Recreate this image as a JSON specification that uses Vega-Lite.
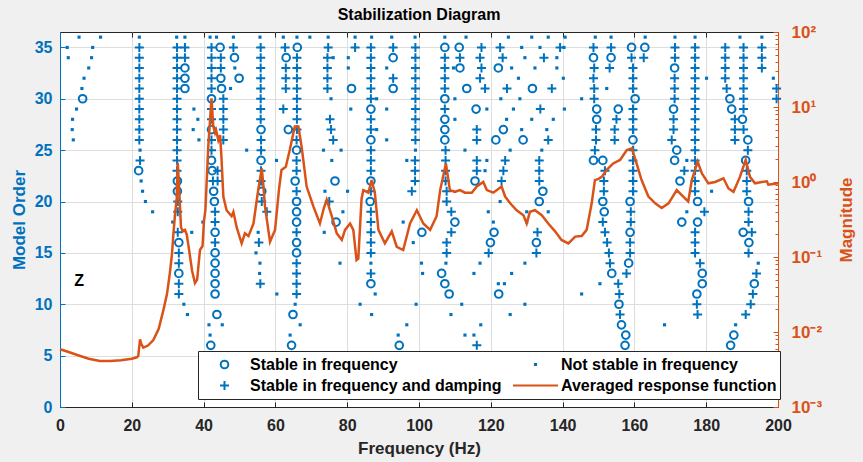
{
"$schema":"https://vega.github.io/schema/vega-lite/v6.json",
"width":718,"height":375,
"autosize":{"type":"none"},
"padding":{"left":60,"top":32,"right":85,"bottom":55},
"background":"#f0f0f0",
"title":{"text":"Stabilization Diagram","font":"Liberation Sans","fontSize":16,"fontWeight":"bold","color":"#000000","anchor":"middle","frame":"group","offset":0},
"config":{"view":{"fill":"white","stroke":"#262626","strokeWidth":1},
"legend":{"orient":"none","legendX":138,"legendY":319,"columns":2,"fillColor":"white","strokeColor":"#262626","padding":3,"symbolSize":2025,"symbolStrokeWidth":2,"clipHeight":21,"labelOffset":2,"columnPadding":10,"rowPadding":0,"labelFont":"Liberation Sans","labelFontSize":16,"labelFontWeight":"bold","labelColor":"#000000","labelLimit":400,"symbolOpacity":1}},
"resolve":{"scale":{"y":"independent"}},
"layer":[
{"data":{"values":[
{"f":11.3,"o":36,"t":"n"},{"f":5.3,"o":36,"t":"n"},{"f":2.0,"o":35,"t":"n"},{"f":9.1,"o":35,"t":"n"},{"f":2.3,"o":34,"t":"n"},{"f":8.8,"o":34,"t":"n"},{"f":8.0,"o":33,"t":"n"},{"f":6.7,"o":32,"t":"n"},{"f":6.1,"o":31,"t":"n"},{"f":6.3,"o":30,"t":"c"},{"f":4.6,"o":29,"t":"n"},{"f":3.5,"o":28,"t":"n"},{"f":3.4,"o":27,"t":"n"},{"f":3.7,"o":26,"t":"n"},
{"f":22.1,"o":36,"t":"n"},{"f":22.1,"o":35,"t":"p"},{"f":22.1,"o":34,"t":"p"},{"f":22.1,"o":33,"t":"p"},{"f":22.1,"o":32,"t":"p"},{"f":22.1,"o":31,"t":"p"},{"f":22.1,"o":30,"t":"p"},{"f":22.1,"o":29,"t":"p"},{"f":22.1,"o":28,"t":"p"},{"f":22.1,"o":27,"t":"p"},{"f":22.1,"o":26,"t":"p"},{"f":22.3,"o":25,"t":"n"},{"f":22.3,"o":24,"t":"p"},{"f":21.9,"o":23,"t":"c"},{"f":22.6,"o":22,"t":"n"},{"f":23.0,"o":21,"t":"n"},{"f":23.8,"o":20,"t":"n"},{"f":25.8,"o":19,"t":"n"},
{"f":32.5,"o":36,"t":"n"},{"f":34.8,"o":36,"t":"n"},{"f":32.6,"o":35,"t":"p"},{"f":32.6,"o":34,"t":"p"},{"f":32.6,"o":33,"t":"p"},{"f":32.6,"o":32,"t":"p"},{"f":32.6,"o":31,"t":"p"},{"f":32.6,"o":30,"t":"p"},{"f":32.6,"o":29,"t":"p"},{"f":32.6,"o":28,"t":"p"},{"f":32.6,"o":27,"t":"p"},{"f":32.6,"o":26,"t":"p"},{"f":32.6,"o":25,"t":"p"},{"f":32.6,"o":24,"t":"p"},{"f":32.6,"o":23,"t":"p"},{"f":32.7,"o":22,"t":"c"},{"f":32.7,"o":21,"t":"c"},{"f":32.8,"o":20,"t":"p"},{"f":32.8,"o":19,"t":"p"},{"f":31.4,"o":18,"t":"n"},{"f":32.8,"o":17,"t":"p"},{"f":33.1,"o":16,"t":"c"},{"f":33.1,"o":15,"t":"p"},{"f":33.1,"o":14,"t":"p"},{"f":33.1,"o":13,"t":"c"},{"f":33.1,"o":12,"t":"p"},{"f":33.1,"o":11,"t":"p"},{"f":34.5,"o":10,"t":"n"},{"f":35.5,"o":9,"t":"n"},
{"f":34.8,"o":35,"t":"p"},{"f":34.8,"o":34,"t":"p"},{"f":34.8,"o":33,"t":"c"},{"f":34.8,"o":32,"t":"c"},{"f":34.8,"o":31,"t":"c"},{"f":37.3,"o":29,"t":"n"},{"f":38.4,"o":28,"t":"n"},{"f":37.1,"o":27,"t":"n"},{"f":38.7,"o":26,"t":"n"},{"f":36.7,"o":17,"t":"n"},{"f":39.8,"o":18,"t":"n"},
{"f":41.8,"o":36,"t":"n"},{"f":43.6,"o":36,"t":"n"},{"f":42.2,"o":35,"t":"p"},{"f":42.2,"o":34,"t":"p"},{"f":42.2,"o":33,"t":"p"},{"f":42.2,"o":32,"t":"p"},{"f":42.2,"o":31,"t":"p"},{"f":42.2,"o":30,"t":"c"},{"f":42.2,"o":29,"t":"p"},{"f":42.2,"o":28,"t":"p"},{"f":42.2,"o":27,"t":"c"},{"f":42.2,"o":26,"t":"p"},{"f":42.2,"o":25,"t":"p"},{"f":42.2,"o":24,"t":"c"},{"f":42.4,"o":23,"t":"c"},{"f":42.6,"o":22,"t":"p"},{"f":42.8,"o":21,"t":"c"},{"f":43.0,"o":20,"t":"c"},{"f":43.2,"o":19,"t":"p"},{"f":43.2,"o":18,"t":"p"},{"f":43.2,"o":17,"t":"c"},{"f":43.2,"o":16,"t":"p"},{"f":43.2,"o":15,"t":"c"},{"f":43.2,"o":14,"t":"c"},{"f":43.2,"o":13,"t":"c"},{"f":43.2,"o":12,"t":"c"},{"f":43.2,"o":11,"t":"c"},{"f":43.7,"o":9,"t":"c"},{"f":45.2,"o":8,"t":"n"},{"f":41.5,"o":8,"t":"n"},{"f":41.8,"o":7,"t":"n"},{"f":42.0,"o":6,"t":"c"},
{"f":44.6,"o":35,"t":"c"},{"f":44.8,"o":34,"t":"p"},{"f":44.8,"o":33,"t":"p"},{"f":44.8,"o":32,"t":"c"},{"f":45.0,"o":31,"t":"c"},{"f":45.5,"o":30,"t":"p"},{"f":45.5,"o":29,"t":"p"},{"f":45.5,"o":28,"t":"p"},{"f":45.5,"o":27,"t":"p"},{"f":45.5,"o":26,"t":"p"},{"f":43.9,"o":23,"t":"p"},{"f":43.9,"o":22,"t":"p"},
{"f":48.3,"o":36,"t":"n"},{"f":48.3,"o":35,"t":"p"},{"f":48.6,"o":34,"t":"c"},{"f":48.7,"o":33,"t":"n"},{"f":49.9,"o":32,"t":"c"},{"f":47.5,"o":31,"t":"n"},{"f":52.0,"o":25,"t":"n"},
{"f":55.7,"o":36,"t":"n"},{"f":55.9,"o":35,"t":"p"},{"f":55.9,"o":34,"t":"p"},{"f":55.9,"o":33,"t":"p"},{"f":55.9,"o":32,"t":"p"},{"f":55.9,"o":31,"t":"p"},{"f":55.9,"o":30,"t":"p"},{"f":55.9,"o":29,"t":"p"},{"f":55.9,"o":28,"t":"p"},{"f":56.0,"o":27,"t":"c"},{"f":56.0,"o":26,"t":"p"},{"f":56.0,"o":25,"t":"p"},{"f":56.0,"o":24,"t":"c"},{"f":56.0,"o":23,"t":"p"},{"f":56.0,"o":22,"t":"p"},{"f":56.2,"o":21,"t":"c"},{"f":56.2,"o":20,"t":"p"},{"f":57.6,"o":19,"t":"p"},{"f":55.2,"o":17,"t":"n"},{"f":55.4,"o":16,"t":"p"},{"f":54.6,"o":15,"t":"n"},{"f":55.7,"o":14,"t":"n"},{"f":55.6,"o":13,"t":"n"},{"f":55.8,"o":12,"t":"p"},{"f":60.4,"o":11,"t":"n"},{"f":60.3,"o":24,"t":"n"},
{"f":62.2,"o":36,"t":"n"},{"f":66.0,"o":36,"t":"n"},{"f":62.7,"o":35,"t":"p"},{"f":63.0,"o":34,"t":"c"},{"f":62.9,"o":33,"t":"p"},{"f":62.9,"o":32,"t":"p"},{"f":62.9,"o":31,"t":"p"},{"f":62.2,"o":29,"t":"p"},{"f":63.6,"o":27,"t":"c"},
{"f":66.1,"o":35,"t":"c"},{"f":66.0,"o":34,"t":"p"},{"f":66.0,"o":33,"t":"p"},{"f":66.0,"o":32,"t":"p"},{"f":66.0,"o":31,"t":"p"},{"f":66.0,"o":30,"t":"p"},{"f":66.0,"o":29,"t":"p"},{"f":66.0,"o":28,"t":"p"},{"f":66.0,"o":27,"t":"p"},{"f":65.9,"o":26,"t":"p"},{"f":65.9,"o":25,"t":"c"},{"f":65.9,"o":24,"t":"p"},{"f":65.9,"o":23,"t":"p"},{"f":65.5,"o":22,"t":"c"},{"f":65.9,"o":21,"t":"p"},{"f":65.9,"o":20,"t":"c"},{"f":65.9,"o":19,"t":"c"},{"f":65.9,"o":18,"t":"c"},{"f":65.9,"o":17,"t":"p"},{"f":65.9,"o":16,"t":"c"},{"f":65.9,"o":15,"t":"c"},{"f":65.9,"o":14,"t":"p"},{"f":65.9,"o":13,"t":"p"},{"f":65.9,"o":12,"t":"p"},{"f":65.9,"o":11,"t":"p"},{"f":65.5,"o":10,"t":"n"},{"f":64.9,"o":9,"t":"c"},{"f":66.9,"o":8,"t":"n"},{"f":64.1,"o":7,"t":"n"},{"f":64.5,"o":6,"t":"c"},
{"f":69.6,"o":36,"t":"n"},{"f":74.7,"o":36,"t":"n"},{"f":74.7,"o":35,"t":"p"},{"f":74.5,"o":34,"t":"p"},{"f":74.5,"o":33,"t":"p"},{"f":74.5,"o":32,"t":"p"},{"f":74.5,"o":31,"t":"p"},{"f":76.1,"o":34,"t":"n"},{"f":75.5,"o":30,"t":"n"},{"f":75.2,"o":28,"t":"p"},{"f":75.5,"o":27,"t":"p"},{"f":76.1,"o":26,"t":"p"},{"f":73.4,"o":25,"t":"n"},{"f":78.3,"o":25,"t":"n"},{"f":75.7,"o":24,"t":"n"},{"f":76.6,"o":22,"t":"c"},{"f":73.8,"o":21,"t":"n"},{"f":80.1,"o":21,"t":"n"},{"f":75.0,"o":20,"t":"p"},{"f":78.8,"o":19,"t":"n"},{"f":76.9,"o":18,"t":"c"},{"f":73.6,"o":17,"t":"n"},{"f":78.0,"o":14,"t":"n"},
{"f":82.2,"o":36,"t":"n"},{"f":82.2,"o":35,"t":"p"},{"f":80.3,"o":34,"t":"n"},{"f":80.3,"o":33,"t":"n"},{"f":81.2,"o":31,"t":"c"},{"f":81.0,"o":29,"t":"n"},{"f":83.6,"o":10,"t":"n"},
{"f":86.8,"o":36,"t":"n"},{"f":86.6,"o":35,"t":"p"},{"f":86.6,"o":34,"t":"p"},{"f":86.6,"o":33,"t":"p"},{"f":86.6,"o":32,"t":"p"},{"f":86.6,"o":31,"t":"p"},{"f":86.6,"o":30,"t":"p"},{"f":86.6,"o":29,"t":"c"},{"f":86.6,"o":28,"t":"p"},{"f":86.6,"o":27,"t":"p"},{"f":86.6,"o":26,"t":"c"},{"f":86.6,"o":25,"t":"p"},{"f":86.6,"o":24,"t":"p"},{"f":86.6,"o":23,"t":"p"},{"f":86.6,"o":22,"t":"c"},{"f":86.6,"o":21,"t":"p"},{"f":86.4,"o":20,"t":"c"},{"f":86.6,"o":19,"t":"p"},{"f":86.6,"o":18,"t":"p"},{"f":86.6,"o":17,"t":"p"},{"f":86.6,"o":16,"t":"p"},{"f":86.6,"o":15,"t":"p"},{"f":86.6,"o":14,"t":"n"},{"f":86.6,"o":13,"t":"p"},{"f":86.6,"o":12,"t":"c"},{"f":87.8,"o":11,"t":"n"},{"f":86.8,"o":9,"t":"n"},{"f":88.2,"o":30,"t":"n"},{"f":88.2,"o":27,"t":"n"},
{"f":92.4,"o":36,"t":"n"},{"f":92.8,"o":35,"t":"p"},{"f":92.8,"o":34,"t":"c"},{"f":92.8,"o":32,"t":"p"},{"f":92.8,"o":31,"t":"c"},{"f":91.0,"o":29,"t":"n"},{"f":91.0,"o":26,"t":"n"},{"f":91.0,"o":33,"t":"n"},{"f":94.5,"o":6,"t":"c"},{"f":96.6,"o":8,"t":"n"},{"f":94.2,"o":7,"t":"n"},{"f":95.6,"o":18,"t":"n"},{"f":96.6,"o":24,"t":"n"},
{"f":98.9,"o":36,"t":"n"},{"f":99.0,"o":35,"t":"p"},{"f":99.0,"o":34,"t":"p"},{"f":99.0,"o":33,"t":"p"},{"f":99.0,"o":32,"t":"p"},{"f":99.0,"o":31,"t":"p"},{"f":99.0,"o":30,"t":"p"},{"f":99.0,"o":29,"t":"p"},{"f":99.0,"o":28,"t":"p"},{"f":99.0,"o":27,"t":"p"},{"f":99.0,"o":26,"t":"p"},{"f":99.0,"o":25,"t":"n"},{"f":98.9,"o":24,"t":"p"},{"f":98.9,"o":23,"t":"p"},{"f":98.9,"o":22,"t":"p"},{"f":98.0,"o":21,"t":"p"},{"f":100.8,"o":17,"t":"c"},{"f":98.4,"o":16,"t":"n"},{"f":100.7,"o":14,"t":"n"},{"f":101.0,"o":13,"t":"n"},{"f":99.2,"o":10,"t":"n"},
{"f":107.2,"o":36,"t":"n"},{"f":107.2,"o":35,"t":"c"},{"f":107.2,"o":34,"t":"p"},{"f":107.2,"o":33,"t":"p"},{"f":107.2,"o":32,"t":"p"},{"f":107.2,"o":31,"t":"p"},{"f":107.2,"o":30,"t":"c"},{"f":107.2,"o":29,"t":"p"},{"f":107.2,"o":28,"t":"c"},{"f":107.2,"o":27,"t":"c"},{"f":107.2,"o":26,"t":"c"},{"f":107.4,"o":25,"t":"p"},{"f":107.4,"o":24,"t":"p"},{"f":107.4,"o":23,"t":"p"},{"f":107.4,"o":22,"t":"p"},{"f":107.7,"o":21,"t":"p"},{"f":107.7,"o":20,"t":"p"},{"f":109.0,"o":19,"t":"p"},{"f":110.0,"o":18,"t":"c"},{"f":109.0,"o":17,"t":"p"},{"f":107.7,"o":16,"t":"p"},{"f":107.7,"o":15,"t":"p"},{"f":107.5,"o":14,"t":"n"},{"f":106.3,"o":13,"t":"c"},{"f":107.2,"o":12,"t":"c"},{"f":108.4,"o":11,"t":"c"},{"f":108.9,"o":9,"t":"n"},
{"f":113.1,"o":36,"t":"n"},{"f":111.2,"o":35,"t":"c"},{"f":111.4,"o":34,"t":"p"},{"f":111.4,"o":33,"t":"c"},{"f":113.3,"o":31,"t":"c"},{"f":109.6,"o":33,"t":"n"},{"f":110.0,"o":30,"t":"n"},{"f":110.0,"o":28,"t":"n"},{"f":112.8,"o":25,"t":"n"},{"f":111.9,"o":10,"t":"n"},{"f":112.8,"o":7,"t":"n"},{"f":115.3,"o":7,"t":"n"},{"f":117.2,"o":8,"t":"n"},{"f":116.1,"o":6,"t":"p"},
{"f":117.4,"o":35,"t":"p"},{"f":117.0,"o":34,"t":"p"},{"f":117.4,"o":33,"t":"p"},{"f":117.0,"o":32,"t":"p"},{"f":118.4,"o":31,"t":"p"},{"f":115.9,"o":29,"t":"c"},{"f":118.9,"o":29,"t":"n"},{"f":116.1,"o":27,"t":"p"},{"f":116.1,"o":26,"t":"p"},{"f":116.1,"o":24,"t":"p"},{"f":116.1,"o":23,"t":"p"},{"f":115.6,"o":22,"t":"c"},{"f":119.3,"o":19,"t":"n"},{"f":117.0,"o":14,"t":"n"},{"f":115.3,"o":13,"t":"n"},{"f":118.9,"o":24,"t":"n"},{"f":118.4,"o":23,"t":"n"},
{"f":122.6,"o":35,"t":"p"},{"f":123.3,"o":34,"t":"p"},{"f":122.1,"o":33,"t":"c"},{"f":124.5,"o":31,"t":"p"},{"f":123.5,"o":27,"t":"c"},{"f":121.4,"o":26,"t":"c"},{"f":124.0,"o":24,"t":"p"},{"f":123.5,"o":23,"t":"p"},{"f":123.0,"o":22,"t":"p"},{"f":120.9,"o":17,"t":"c"},{"f":119.9,"o":16,"t":"c"},{"f":119.4,"o":15,"t":"p"},{"f":125.8,"o":13,"t":"n"},{"f":122.1,"o":12,"t":"n"},{"f":123.8,"o":12,"t":"n"},{"f":122.2,"o":11,"t":"c"},{"f":125.4,"o":9,"t":"n"},{"f":120.7,"o":18,"t":"n"},{"f":122.6,"o":20,"t":"n"},
{"f":129.0,"o":26,"t":"c"},{"f":131.6,"o":31,"t":"c"},{"f":134.8,"o":34,"t":"p"},{"f":137.0,"o":31,"t":"p"},{"f":139.3,"o":35,"t":"p"},{"f":133.8,"o":29,"t":"p"},{"f":136.0,"o":26,"t":"p"},{"f":133.5,"o":24,"t":"p"},{"f":133.5,"o":23,"t":"p"},{"f":133.5,"o":22,"t":"p"},{"f":134.5,"o":21,"t":"c"},{"f":133.5,"o":20,"t":"c"},{"f":133.0,"o":17,"t":"p"},{"f":132.7,"o":16,"t":"c"},{"f":132.7,"o":15,"t":"p"},
{"f":124.9,"o":36,"t":"n"},{"f":131.4,"o":36,"t":"n"},{"f":136.0,"o":36,"t":"n"},{"f":140.7,"o":36,"t":"n"},{"f":128.6,"o":35,"t":"n"},{"f":133.7,"o":35,"t":"n"},{"f":129.5,"o":34,"t":"n"},{"f":138.4,"o":34,"t":"n"},{"f":125.8,"o":33,"t":"n"},{"f":132.3,"o":33,"t":"n"},{"f":138.4,"o":33,"t":"n"},{"f":127.7,"o":32,"t":"n"},{"f":140.2,"o":32,"t":"n"},{"f":122.8,"o":30,"t":"n"},{"f":128.1,"o":30,"t":"n"},{"f":145.3,"o":30,"t":"n"},{"f":126.3,"o":29,"t":"n"},{"f":140.5,"o":29,"t":"n"},{"f":124.4,"o":28,"t":"n"},{"f":131.4,"o":28,"t":"n"},{"f":137.4,"o":28,"t":"n"},{"f":128.6,"o":27,"t":"n"},{"f":135.6,"o":27,"t":"n"},{"f":125.4,"o":25,"t":"n"},{"f":134.2,"o":25,"t":"n"},{"f":130.0,"o":19,"t":"n"},{"f":136.0,"o":19,"t":"n"},{"f":130.0,"o":18,"t":"n"},{"f":129.5,"o":14,"t":"n"},{"f":129.5,"o":10,"t":"n"},{"f":145.3,"o":11,"t":"n"},{"f":150.4,"o":12,"t":"n"},{"f":152.3,"o":31,"t":"n"},{"f":140.4,"o":35,"t":"n"},
{"f":149.1,"o":36,"t":"n"},{"f":148.6,"o":35,"t":"p"},{"f":148.6,"o":34,"t":"c"},{"f":148.8,"o":33,"t":"p"},{"f":148.6,"o":32,"t":"p"},{"f":148.8,"o":31,"t":"p"},{"f":148.8,"o":30,"t":"p"},{"f":149.5,"o":29,"t":"c"},{"f":149.5,"o":28,"t":"c"},{"f":149.3,"o":27,"t":"p"},{"f":149.3,"o":26,"t":"p"},{"f":149.0,"o":25,"t":"p"},{"f":148.6,"o":24,"t":"c"},{"f":151.2,"o":24,"t":"c"},{"f":151.8,"o":23,"t":"p"},{"f":151.5,"o":22,"t":"p"},{"f":151.5,"o":21,"t":"p"},{"f":151.2,"o":20,"t":"c"},{"f":151.6,"o":19,"t":"c"},{"f":151.2,"o":18,"t":"p"},{"f":151.8,"o":17,"t":"p"},{"f":152.4,"o":16,"t":"p"},{"f":152.9,"o":15,"t":"p"},{"f":153.2,"o":14,"t":"p"},{"f":153.7,"o":13,"t":"c"},{"f":155.5,"o":12,"t":"p"},{"f":155.8,"o":11,"t":"p"},{"f":155.7,"o":10,"t":"c"},{"f":156.0,"o":9,"t":"p"},{"f":156.4,"o":8,"t":"c"},{"f":157.6,"o":7,"t":"c"},{"f":157.4,"o":6,"t":"c"},
{"f":153.5,"o":36,"t":"n"},{"f":153.5,"o":35,"t":"p"},{"f":153.5,"o":34,"t":"c"},{"f":153.1,"o":33,"t":"p"},{"f":155.5,"o":29,"t":"c"},{"f":155.0,"o":28,"t":"p"},{"f":154.5,"o":27,"t":"p"},{"f":154.5,"o":26,"t":"p"},
{"f":159.2,"o":35,"t":"c"},{"f":162.9,"o":35,"t":"c"},{"f":162.6,"o":34,"t":"p"},{"f":159.2,"o":34,"t":"p"},{"f":159.6,"o":33,"t":"p"},{"f":159.6,"o":32,"t":"p"},{"f":159.6,"o":31,"t":"p"},{"f":160.2,"o":30,"t":"c"},{"f":159.6,"o":29,"t":"p"},{"f":159.6,"o":28,"t":"p"},{"f":159.6,"o":27,"t":"p"},{"f":159.6,"o":26,"t":"c"},{"f":159.6,"o":25,"t":"p"},{"f":159.6,"o":24,"t":"p"},{"f":159.6,"o":23,"t":"p"},{"f":159.6,"o":22,"t":"p"},{"f":159.6,"o":21,"t":"p"},{"f":158.8,"o":20,"t":"c"},{"f":159.0,"o":19,"t":"p"},{"f":159.0,"o":18,"t":"p"},{"f":158.8,"o":17,"t":"c"},{"f":158.8,"o":16,"t":"p"},{"f":158.8,"o":15,"t":"p"},{"f":158.4,"o":14,"t":"c"},{"f":157.8,"o":13,"t":"p"},{"f":163.0,"o":36,"t":"n"},
{"f":171.3,"o":36,"t":"n"},{"f":171.3,"o":35,"t":"p"},{"f":171.3,"o":34,"t":"p"},{"f":171.2,"o":33,"t":"c"},{"f":171.2,"o":32,"t":"p"},{"f":171.2,"o":31,"t":"p"},{"f":171.2,"o":30,"t":"p"},{"f":170.9,"o":29,"t":"c"},{"f":170.9,"o":28,"t":"p"},{"f":170.9,"o":27,"t":"p"},{"f":170.4,"o":26,"t":"p"},{"f":171.8,"o":25,"t":"c"},{"f":171.2,"o":24,"t":"c"},{"f":174.6,"o":24,"t":"n"},{"f":173.9,"o":23,"t":"p"},{"f":172.7,"o":22,"t":"c"},{"f":174.6,"o":19,"t":"n"},{"f":173.2,"o":18,"t":"c"},{"f":168.4,"o":8,"t":"n"},
{"f":176.9,"o":36,"t":"n"},{"f":176.9,"o":35,"t":"p"},{"f":176.9,"o":34,"t":"p"},{"f":176.9,"o":33,"t":"p"},{"f":176.9,"o":32,"t":"p"},{"f":176.9,"o":31,"t":"p"},{"f":176.9,"o":30,"t":"p"},{"f":176.9,"o":29,"t":"p"},{"f":176.9,"o":28,"t":"p"},{"f":176.9,"o":27,"t":"p"},{"f":176.9,"o":26,"t":"p"},{"f":176.9,"o":25,"t":"p"},{"f":176.9,"o":24,"t":"p"},{"f":176.9,"o":23,"t":"p"},{"f":176.9,"o":22,"t":"p"},{"f":176.9,"o":21,"t":"p"},{"f":177.6,"o":20,"t":"c"},{"f":179.5,"o":19,"t":"p"},{"f":177.6,"o":18,"t":"c"},{"f":176.9,"o":17,"t":"p"},{"f":176.9,"o":16,"t":"p"},{"f":176.9,"o":15,"t":"p"},{"f":178.3,"o":14,"t":"p"},{"f":178.9,"o":13,"t":"c"},{"f":178.9,"o":12,"t":"c"},{"f":177.4,"o":11,"t":"c"},{"f":177.4,"o":10,"t":"p"},{"f":177.6,"o":9,"t":"p"},{"f":180.1,"o":32,"t":"n"},{"f":181.5,"o":21,"t":"n"},
{"f":189.4,"o":36,"t":"n"},{"f":185.3,"o":35,"t":"p"},{"f":185.3,"o":34,"t":"p"},{"f":185.3,"o":33,"t":"p"},{"f":185.3,"o":32,"t":"p"},{"f":185.7,"o":31,"t":"p"},{"f":186.6,"o":30,"t":"c"},{"f":187.1,"o":29,"t":"c"},{"f":188.0,"o":28,"t":"p"},{"f":188.0,"o":27,"t":"p"},{"f":188.0,"o":26,"t":"p"},{"f":188.2,"o":8,"t":"n"},{"f":187.7,"o":7,"t":"c"},{"f":186.8,"o":6,"t":"c"},
{"f":190.4,"o":35,"t":"p"},{"f":190.4,"o":34,"t":"p"},{"f":190.4,"o":33,"t":"p"},{"f":190.4,"o":32,"t":"p"},{"f":190.4,"o":31,"t":"p"},{"f":190.4,"o":30,"t":"p"},{"f":190.4,"o":29,"t":"p"},{"f":190.1,"o":28,"t":"c"},{"f":190.4,"o":27,"t":"p"},{"f":191.6,"o":26,"t":"c"},{"f":191.6,"o":25,"t":"p"},{"f":191.0,"o":24,"t":"c"},{"f":191.3,"o":23,"t":"p"},{"f":191.3,"o":22,"t":"p"},{"f":191.3,"o":21,"t":"p"},{"f":191.8,"o":20,"t":"c"},{"f":191.8,"o":19,"t":"p"},{"f":191.8,"o":18,"t":"p"},{"f":190.3,"o":17,"t":"c"},{"f":192.7,"o":17,"t":"p"},{"f":191.9,"o":16,"t":"c"},{"f":191.8,"o":15,"t":"p"},{"f":194.5,"o":14,"t":"n"},{"f":194.0,"o":13,"t":"p"},{"f":193.4,"o":12,"t":"c"},{"f":193.0,"o":11,"t":"p"},{"f":192.4,"o":10,"t":"p"},{"f":191.0,"o":9,"t":"p"},
{"f":195.5,"o":36,"t":"n"},{"f":195.5,"o":35,"t":"p"},{"f":195.5,"o":34,"t":"p"},{"f":195.5,"o":33,"t":"p"},{"f":198.7,"o":32,"t":"n"},{"f":199.6,"o":31,"t":"p"},{"f":199.6,"o":30,"t":"p"}
]},
"mark":{"type":"point","filled":false,"strokeWidth":2,"size":2025,"opacity":1},
"encoding":{
"x":{"field":"f","type":"quantitative","scale":{"domain":[0,200],"nice":false},"axis":{"orient":"bottom","values":[0,20,40,60,80,100,120,140,160,180,200],"title":"Frequency (Hz)","titleFont":"Liberation Sans","titleFontSize":17,"titleFontWeight":"bold","titleColor":"#262626","titlePadding":7,"labelFont":"Liberation Sans","labelFontSize":16,"labelFontWeight":"bold","labelColor":"#262626","labelPadding":15,"labelFlush":false,"labelOverlap":false,"tickSize":-5,"tickColor":"#262626","domainColor":"#262626","grid":true,"gridColor":"#dedede"}},
"y":{"field":"o","type":"quantitative","scale":{"domain":[0,36.5],"nice":false,"zero":false},"axis":{"orient":"left","values":[0,5,10,15,20,25,30,35],"title":"Model Order","titleFont":"Liberation Sans","titleFontSize":17,"titleFontWeight":"bold","titleColor":"#0072BD","titlePadding":6,"labelFont":"Liberation Sans","labelFontSize":16,"labelFontWeight":"bold","labelColor":"#0072BD","labelPadding":13,"labelFlush":false,"labelOverlap":false,"tickSize":-5,"tickColor":"#0072BD","domainColor":"#0072BD","grid":true,"gridColor":"#dedede"}},
"shape":{"field":"t","type":"nominal","scale":{"domain":["c","p","n","a"],"range":["M-0.17,0A0.17,0.17 0 1,0 0.17,0A0.17,0.17 0 1,0 -0.17,0","M-0.2,0H0.2M0,-0.2V0.2","M-0.025,-0.025H0.025V0.025H-0.025Z","M-1,0H1"]},"legend":{"title":null,"labelExpr":"datum.value == 'c' ? 'Stable in frequency' : datum.value == 'n' ? 'Not stable in frequency' : datum.value == 'p' ? 'Stable in frequency and damping' : 'Averaged response function'"}},
"color":{"field":"t","type":"nominal","scale":{"domain":["c","p","n","a"],"range":["#0072BD","#0072BD","#0072BD","#D95319"]},"legend":{"title":null,"labelExpr":"datum.value == 'c' ? 'Stable in frequency' : datum.value == 'n' ? 'Not stable in frequency' : datum.value == 'p' ? 'Stable in frequency and damping' : 'Averaged response function'"}}
}},
{"data":{"values":[{"f":5.3,"o":12.3,"label":"Z"}]},
"mark":{"type":"text","font":"Liberation Sans","fontSize":16,"fontWeight":"bold","color":"#000000","baseline":"middle","align":"center"},
"encoding":{
"x":{"field":"f","type":"quantitative","scale":{"domain":[0,200],"nice":false},"axis":{"orient":"top","values":[0,20,40,60,80,100,120,140,160,180,200],"labels":false,"title":null,"domain":false,"grid":false,"tickSize":-5,"tickColor":"#262626"}},
"y":{"field":"o","type":"quantitative","scale":{"domain":[0,36.5],"nice":false,"zero":false},"axis":null},
"text":{"field":"label"}
}},
{"data":{"values":[
{"f":0,"m":0.0059},{"f":2,"m":0.0055},{"f":5,"m":0.0049},{"f":8,"m":0.0044},{"f":11.1,"m":0.0041},{"f":14,"m":0.0041},{"f":17,"m":0.0042},{"f":20,"m":0.0044},{"f":21.4,"m":0.0046},{"f":21.8,"m":0.0048},{"f":22.3,"m":0.008},{"f":22.6,"m":0.007},{"f":23.2,"m":0.0062},{"f":24.5,"m":0.0066},{"f":26.0,"m":0.0078},{"f":27.5,"m":0.011},{"f":28.8,"m":0.0196},{"f":29.8,"m":0.032},{"f":30.6,"m":0.061},{"f":31.2,"m":0.11},{"f":31.6,"m":0.207},{"f":32.0,"m":0.35},{"f":32.5,"m":0.6},{"f":32.8,"m":1.8},{"f":33.1,"m":1.0},{"f":33.4,"m":0.5},{"f":33.7,"m":0.25},{"f":34.2,"m":0.22},{"f":34.8,"m":0.23},{"f":35.3,"m":0.2},{"f":36.0,"m":0.12},{"f":36.8,"m":0.065},{"f":37.6,"m":0.045},{"f":38.2,"m":0.05},{"f":38.8,"m":0.1},{"f":39.0,"m":0.124},{"f":39.7,"m":0.14},{"f":40.1,"m":0.3},{"f":40.5,"m":0.42},{"f":41.3,"m":2.96},{"f":42.2,"m":13},{"f":42.7,"m":5.5},{"f":43.2,"m":4.5},{"f":43.5,"m":4.9},{"f":44.1,"m":3.6},{"f":44.6,"m":4.2},{"f":45.0,"m":2.0},{"f":45.5,"m":0.64},{"f":46.4,"m":0.42},{"f":47.8,"m":0.35},{"f":48.3,"m":0.4},{"f":49.2,"m":0.25},{"f":50.6,"m":0.152},{"f":51.5,"m":0.207},{"f":52.5,"m":0.19},{"f":53.9,"m":0.28},{"f":55.2,"m":0.78},{"f":56.2,"m":1.52},{"f":56.6,"m":0.96},{"f":57.1,"m":0.47},{"f":58.5,"m":0.16},{"f":59.9,"m":0.23},{"f":61.0,"m":0.8},{"f":61.7,"m":1.45},{"f":62.9,"m":1.6},{"f":64.0,"m":2.67},{"f":65.4,"m":5.5},{"f":66.4,"m":5.5},{"f":67.3,"m":2.96},{"f":68.7,"m":0.87},{"f":70.6,"m":0.47},{"f":72.4,"m":0.28},{"f":73.5,"m":0.45},{"f":74.3,"m":0.58},{"f":75.7,"m":0.35},{"f":77.1,"m":0.207},{"f":78.5,"m":0.169},{"f":79.4,"m":0.23},{"f":80.8,"m":0.28},{"f":81.7,"m":0.23},{"f":82.6,"m":0.091},{"f":83.1,"m":0.095},{"f":84.0,"m":0.6},{"f":84.5,"m":0.78},{"f":85.9,"m":0.72},{"f":86.8,"m":1.06},{"f":87.7,"m":0.72},{"f":88.7,"m":0.23},{"f":90.5,"m":0.152},{"f":92.4,"m":0.22},{"f":93.8,"m":0.137},{"f":95.6,"m":0.124},{"f":97.5,"m":0.28},{"f":99.4,"m":0.42},{"f":101.2,"m":0.28},{"f":103.1,"m":0.23},{"f":104.9,"m":0.35},{"f":105.9,"m":0.78},{"f":107.5,"m":1.77},{"f":108.6,"m":0.78},{"f":110.0,"m":0.74},{"f":111.4,"m":0.78},{"f":112.8,"m":0.72},{"f":114.7,"m":0.72},{"f":116.1,"m":0.87},{"f":117.9,"m":1.0},{"f":118.9,"m":0.78},{"f":120.7,"m":0.72},{"f":123.0,"m":0.87},{"f":124.0,"m":0.64},{"f":125.4,"m":0.52},{"f":127.2,"m":0.42},{"f":129.1,"m":0.36},{"f":130.0,"m":0.28},{"f":130.9,"m":0.4},{"f":132.3,"m":0.42},{"f":134.2,"m":0.36},{"f":136.0,"m":0.28},{"f":137.9,"m":0.22},{"f":139.7,"m":0.169},{"f":141.6,"m":0.152},{"f":143.5,"m":0.187},{"f":145.3,"m":0.19},{"f":146.7,"m":0.23},{"f":148.1,"m":0.52},{"f":149.0,"m":1.06},{"f":150.0,"m":1.1},{"f":150.9,"m":1.17},{"f":152.3,"m":1.45},{"f":154.1,"m":1.77},{"f":156.0,"m":1.97},{"f":157.9,"m":2.67},{"f":159.3,"m":2.81},{"f":160.6,"m":1.77},{"f":162.0,"m":1.06},{"f":163.9,"m":0.64},{"f":165.8,"m":0.52},{"f":167.6,"m":0.45},{"f":169.5,"m":0.52},{"f":171.8,"m":0.78},{"f":173.6,"m":0.64},{"f":175.0,"m":0.55},{"f":176.0,"m":1.06},{"f":177.6,"m":1.87},{"f":178.8,"m":1.3},{"f":180.6,"m":0.96},{"f":182.5,"m":1.0},{"f":184.8,"m":1.12},{"f":186.2,"m":0.82},{"f":187.6,"m":0.74},{"f":189.4,"m":1.17},{"f":191.0,"m":1.97},{"f":192.2,"m":1.17},{"f":193.6,"m":0.96},{"f":195.5,"m":1.0},{"f":196.9,"m":1.02},{"f":197.3,"m":0.92},{"f":198.7,"m":0.94},{"f":200,"m":0.96}
]},
"mark":{"type":"line","color":"#D95319","strokeWidth":2.5},
"encoding":{
"x":{"field":"f","type":"quantitative","scale":{"domain":[0,200],"nice":false},"axis":null},
"y":{"field":"m","type":"quantitative","scale":{"type":"log","domain":[0.001,100],"nice":false},"axis":{"orient":"right","values":[0.001,0.002,0.003,0.004,0.005,0.006,0.007,0.008,0.009,0.01,0.02,0.03,0.04,0.05,0.06,0.07,0.08,0.09,0.1,0.2,0.3,0.4,0.5,0.6,0.7,0.8,0.9,1,2,3,4,5,6,7,8,9,10,20,30,40,50,60,70,80,90,100],"labelExpr":"datum.value == 0.001 ? '10⁻³' : datum.value == 0.01 ? '10⁻²' : datum.value == 0.1 ? '10⁻¹' : datum.value == 1 ? '10⁰' : datum.value == 10 ? '10¹' : datum.value == 100 ? '10²' : ''","title":"Magnitude","titleAngle":270,"titleBaseline":"top","titleFont":"Liberation Sans","titleFontSize":17,"titleFontWeight":"bold","titleColor":"#D95319","titlePadding":17,"labelFont":"Liberation Sans","labelFontSize":17,"labelFontWeight":"bold","labelColor":"#D95319","labelPadding":18,"labelFlush":false,"labelOverlap":false,"tickSize":{"condition":{"test":"indexof([0.001,0.01,0.1,1,10,100], datum.value) >= 0","value":-5},"value":-3},"tickColor":"#D95319","domainColor":"#D95319","grid":false}}
}}
]
}
